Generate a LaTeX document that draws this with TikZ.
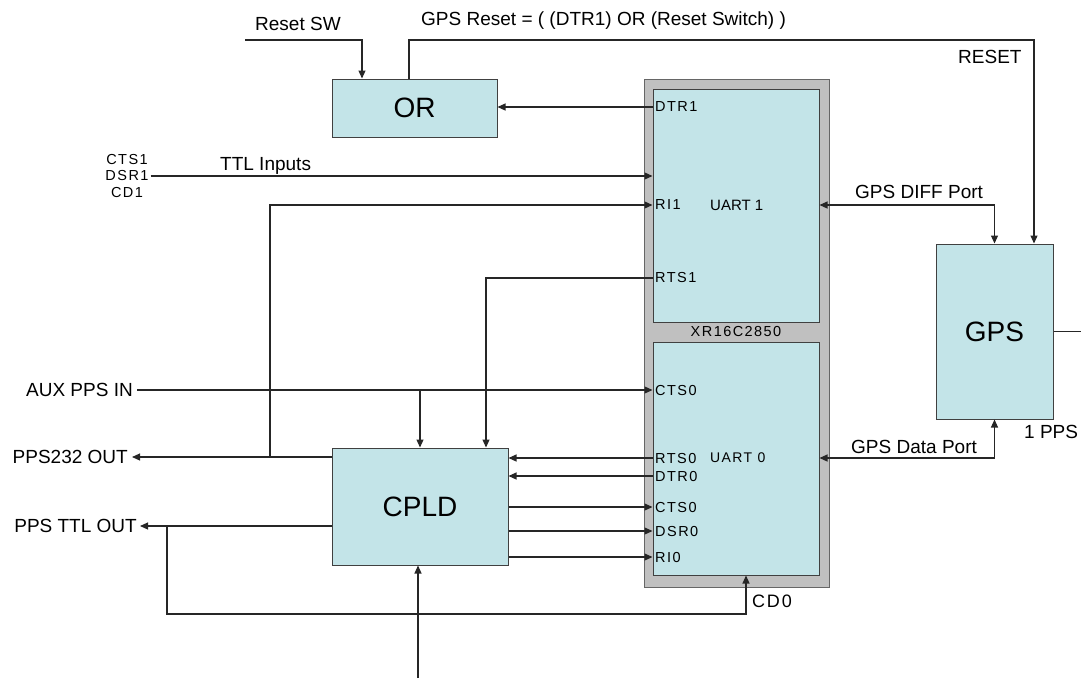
\documentclass[tikz,border=0pt]{standalone}
\usepackage{fontspec}
\setmainfont{Liberation Sans}
\newfontfamily\pinfont[LetterSpace=10]{Liberation Sans}
\usepackage{tikz}
\usetikzlibrary{arrows.meta,positioning,calc}
\definecolor{boxCyan}{RGB}{195,228,232}
\definecolor{chipGray}{RGB}{192,192,192}

\begin{document}
\begin{tikzpicture}[x=1pt,y=-1pt,
  blk/.style={rectangle,draw=black!75,fill=boxCyan,line width=1pt,inner sep=0pt,
              font=\fontsize{28}{30}\selectfont},
  chip/.style={rectangle,draw=black!60,fill=chipGray,line width=1pt,inner sep=0pt,
               minimum width=185pt,minimum height=508pt},
  uart/.style={rectangle,draw=black!75,fill=boxCyan,line width=1pt,inner sep=0pt,
               minimum width=166pt,minimum height=233pt},
  pinlbl/.style={anchor=west,inner sep=0pt,font=\pinfont\fontsize{14.5}{16}\selectfont},
  lbl/.style={anchor=base west,inner sep=0pt,font=\fontsize{19}{21}\selectfont},
  sig/.style={line width=1.1pt,black!85},
  arr/.style={sig,-{Triangle[length=8pt,width=7pt]}},
  barr/.style={sig,{Triangle[length=8pt,width=7pt]}-{Triangle[length=8pt,width=7pt]}}
]
  \useasboundingbox (0,0) rectangle (1081,678);

  \node[blk,minimum width=165pt,minimum height=58pt](or) at (414.5,108) {OR};
  \node[chip](xr) at (736.5,333) {};
  \node[uart](uart1) at (736,205.5) {};
  \node[uart](uart0) at (736,458.5) {};
  \node[pinlbl,anchor=center](xrname) at (736,332) {XR16C2850};
  \node[blk,minimum width=117pt,minimum height=175pt](gps) at (994.5,331.5) {GPS};
  \node[blk,minimum width=176pt,minimum height=117pt](cpld) at (420,506.5) {CPLD};

  \node[pinlbl](pdtr1) at (655,107) {DTR1};
  \node[pinlbl](pri1)  at (655,205) {RI1};
  \node[pinlbl](prts1) at (655,278) {RTS1};
  \node[anchor=west,inner sep=0pt,font=\fontsize{15}{17}\selectfont](u1name) at (710,205) {UART 1};
  \node[pinlbl](pcts0)  at (655,390) {CTS0};
  \node[pinlbl](prts0)  at (655,458) {RTS0};
  \node[pinlbl](pdtr0)  at (655,476) {DTR0};
  \node[pinlbl](pcts0b) at (655,507) {CTS0};
  \node[pinlbl](pdsr0)  at (655,531) {DSR0};
  \node[pinlbl](pri0)   at (655,557) {RI0};
  \node[pinlbl,font=\pinfont\fontsize{14}{15}\selectfont](u0name) at (710,458) {UART 0};

  \node[pinlbl,anchor=center](dsr1) at (127,176) {DSR1};
  \node[pinlbl,above=6pt of dsr1](cts1) {CTS1};
  \node[pinlbl,below=6pt of dsr1](cd1) {CD1};
  \node[lbl](ttlin) at (220,170) {TTL Inputs};
  \node[lbl](resetsw) at (255,30) {Reset SW};
  \node[lbl](gpsreset) at (421,25) {GPS Reset = ( (DTR1) OR (Reset Switch) )};
  \node[lbl](rst) at (958,63) {RESET};
  \node[lbl](diff) at (855,198) {GPS DIFF Port};
  \node[lbl](data) at (851,453) {GPS Data Port};
  \node[lbl](pps) at (1024,438) {1 PPS};
  \node[lbl,anchor=east](auxin) at (133,390) {AUX PPS IN};
  \node[lbl,anchor=east](pps232) at (128,457) {PPS232 OUT};
  \node[lbl,anchor=east](ppsttl) at (137,526) {PPS TTL OUT};
  \node[pinlbl,anchor=base west,font=\pinfont\fontsize{18}{20}\selectfont](cd0) at (752,607) {CD0};

  \coordinate(swstart) at (245,40);
  \coordinate(rstcorner) at (1034,40);
  \coordinate(ritap) at (270,457);
  \coordinate(cdtap) at (167,526);
  \coordinate(cdbend) at (167,614);
  \coordinate(cpldin) at (418,678);
  \coordinate(ppsout) at (1081,331.5);

  \draw[arr](swstart)-|([xshift=-52.5pt]or.north);
  \draw[arr]([xshift=-5.5pt]or.north)|-(rstcorner)--(rstcorner|-gps.north);
  \draw[arr](pdtr1-|uart1.west)--(pdtr1-|or.east);
  \draw[arr]([xshift=2pt]dsr1.east)--(dsr1-|uart1.west);
  \draw[arr](ritap)|-(pri1-|uart1.west);
  \draw[arr](prts1-|uart1.west)-|([xshift=66pt]cpld.north);
  \draw[barr](pri1-|uart1.east)-|(gps.north);
  \draw[barr](prts0-|uart0.east)-|(gps.south);
  \draw[sig](gps.east)--(ppsout);

  \draw[arr]([xshift=4pt]auxin.east)--(pcts0-|uart0.west);
  \draw[arr](cpld.north|-pcts0)--(cpld.north);
  \draw[arr](cpld.west|-ritap)--([xshift=4pt]pps232.east);
  \draw[arr](cpld.west|-cdtap)--([xshift=3pt]ppsttl.east);
  \draw[arr](cdtap)--(cdbend)-|([xshift=10pt]uart0.south);
  \draw[arr](cpldin)--(cpldin|-cpld.south);

  \draw[arr](prts0-|uart0.west)--(prts0-|cpld.east);
  \draw[arr](pdtr0-|uart0.west)--(pdtr0-|cpld.east);
  \draw[arr](pcts0b-|cpld.east)--(pcts0b-|uart0.west);
  \draw[arr](pdsr0-|cpld.east)--(pdsr0-|uart0.west);
  \draw[arr](pri0-|cpld.east)--(pri0-|uart0.west);
\end{tikzpicture}
\end{document}
